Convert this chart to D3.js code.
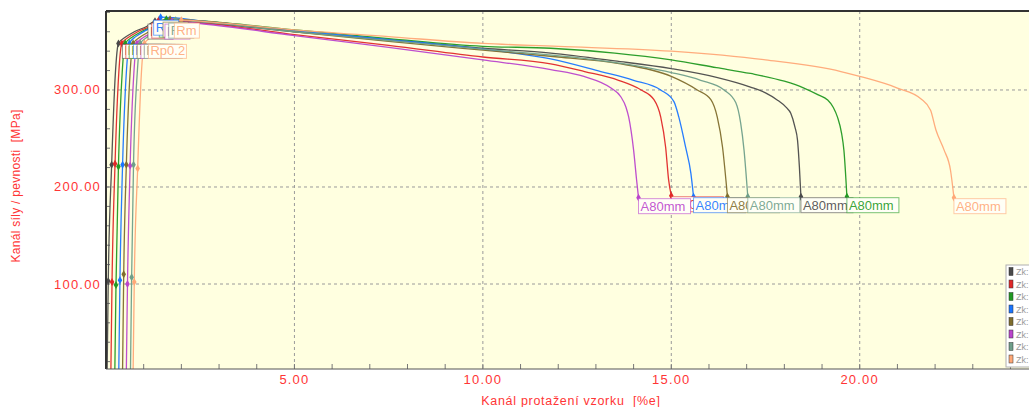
<!DOCTYPE html>
<html><head><meta charset="utf-8">
<script src="https://cdn.jsdelivr.net/npm/d3@7"></script>
<style>body{margin:0;background:#fff}svg{display:block;font-family:"Liberation Sans",Arial,sans-serif}</style>
</head><body><svg id="c" width="1029" height="407"></svg>
<script>
const seriesNames = ["Zk:","Zk:","Zk:","Zk:","Zk:","Zk:","Zk:","Zk:"];
const seriesColors = ["#4a4a4a","#e02828","#229922","#1a75ff","#7f6d2c","#bb44cc","#6f9f8a","#ffa877"];
const xTicks = [5,10,15,20];
const yTicks = [100,200,300];
// strain [%], stress [MPa]
const zk1 = [[0.03,12],[0.06,103],[0.15,223],[0.25,318],[0.33,348],[0.5,354],[0.75,360],[1.1,366],[1.3,371],[2.6,369],[5,360],[7.5,352],[10,343],[11.8,338],[13.5,330],[15,322],[16.2,313],[17.1,303],[17.5,297],[17.8,290],[18.05,282],[18.17,276],[18.28,262],[18.35,248],[18.4,220],[18.44,190]];
const zk2 = [[0.13,12],[0.16,102],[0.24,224],[0.34,318],[0.42,348],[0.59,354],[0.84,360],[1.19,366],[1.4,372],[2.6,369],[5,357],[7.5,346],[10,334],[11.8,327],[12.7,319],[13.6,310],[14.2,300],[14.54,290],[14.72,272],[14.85,241],[14.93,207],[15.0,191]];
const zk3 = [[0.235,12],[0.265,99],[0.33,221],[0.43,318],[0.51,348],[0.68,354],[0.93,360],[1.28,366],[1.6,373],[2.6,371],[5,362],[7.5,353],[10,345],[11.8,343],[13.5,338],[15,331],[16.2,323],[17.1,317],[18,309],[18.52,302],[18.9,295],[19.14,290],[19.3,282],[19.41,272],[19.52,255],[19.58,238],[19.66,190]];
const zk4 = [[0.34,12],[0.37,104],[0.44,223],[0.54,318],[0.62,348],[0.79,355],[1.04,361],[1.3,368],[1.45,375],[2.6,371],[5,361],[7.5,352],[10,342],[11.8,332],[13.13,319],[14,310],[14.72,300],[15.07,288],[15.2,272],[15.38,241],[15.52,214],[15.59,190]];
const zk5 = [[0.44,12],[0.47,110],[0.54,223],[0.64,318],[0.72,348],[0.89,354],[1.14,360],[1.49,366],[1.7,373],[2.6,371],[5,360],[7.5,350],[10,341],[12,334],[13.57,327.5],[15,314],[15.69,300],[16.05,290],[16.22,272],[16.36,241],[16.45,207],[16.49,190]];
const zk6 = [[0.54,12],[0.57,100],[0.64,222],[0.74,318],[0.82,348],[0.99,354],[1.24,359],[1.55,365],[1.75,371],[2.6,368],[5,356],[7.5,344],[10,331],[11.8,321],[12.68,314],[13.4,302],[13.66,293],[13.8,282],[13.87,272],[14.0,238],[14.08,207],[14.13,189]];
const zk7 = [[0.65,12],[0.68,107],[0.73,223],[0.83,318],[0.91,348],[1.08,354],[1.33,360],[1.65,366],[1.85,372],[2.6,370],[5,360],[7.5,351],[10,342],[13,331],[15,318],[15.78,310],[16.4,300],[16.71,287],[16.84,266],[16.93,238],[17.03,190]];
const zk8 = [[0.72,12],[0.75,102],[0.84,219],[0.94,318],[1.02,348],[1.19,354],[1.44,360],[1.78,366],[2.0,372],[2.8,370],[5,362],[7.5,355],[10,348],[12,345],[15,340],[17.5,331],[19.5,319],[20,314],[21,302],[21.62,291],[21.88,279],[22.02,259],[22.24,238],[22.41,217],[22.5,189]];
const allSeries = [zk1,zk2,zk3,zk4,zk5,zk6,zk7,zk8];
// indices of marked points: lower, upper, Rp0.2, Rm
const markIdx = [1,2,4,8];

const svg = d3.select("#c");
const L=106, T=11, B=369, R=1067;
const x = d3.scaleLinear().domain([0,25.5]).range([L,R]);
const y = d3.scaleLinear().domain([12.4,381.4]).range([B,T]);
const red = "#ff3535";

svg.append("defs").append("clipPath").attr("id","clip").append("rect")
  .attr("x",L).attr("y",T).attr("width",R-L).attr("height",B-T);
svg.append("rect").attr("x",L).attr("y",T).attr("width",R-L).attr("height",B-T).attr("fill","#ffffe0");

// grid
const g = svg.append("g");
g.selectAll("line.gx").data(xTicks).join("line").attr("x1",d=>x(d)).attr("x2",d=>x(d)).attr("y1",T).attr("y2",B)
  .attr("stroke","#9a9a9a").attr("stroke-dasharray","3,3");
g.selectAll("line.gy").data(yTicks).join("line").attr("y1",d=>y(d)).attr("y2",d=>y(d)).attr("x1",L).attr("x2",R)
  .attr("stroke","#9a9a9a").attr("stroke-dasharray","3,3");
// minor ticks
g.selectAll("line.mx").data(d3.range(1,26)).join("line").attr("x1",d=>x(d)).attr("x2",d=>x(d)).attr("y1",B).attr("y2",B-5)
  .attr("stroke","#777");
g.selectAll("line.my").data(d3.range(20,381,20)).join("line").attr("y1",d=>y(d)).attr("y2",d=>y(d)).attr("x1",L).attr("x2",L+4)
  .attr("stroke","#777");

// curves
const plot = svg.append("g").attr("clip-path","url(#clip)");
const line = d3.line().x(d=>x(d[0])).y(d=>y(d[1])).curve(d3.curveMonotoneX);
allSeries.forEach((s,i)=>{
  plot.append("path").attr("d",line(s)).attr("fill","none").attr("stroke",seriesColors[i]).attr("stroke-width",1.3).attr("stroke-opacity",0.95);
});
// markers
allSeries.forEach((s,i)=>{
  const pts = markIdx.map(k=>s[k]).concat([s[s.length-1]]);
  plot.selectAll(null).data(pts).join("path")
    .attr("d",d3.symbol(d3.symbolDiamond,18)())
    .attr("transform",d=>`translate(${x(d[0])},${y(d[1])})`)
    .attr("fill",seriesColors[i]);
});
// label boxes
function box(px,py,w,h,txt,col){
  const gg = plot.append("g");
  gg.append("rect").attr("x",px).attr("y",py).attr("width",w).attr("height",h)
    .attr("fill","#fffff6").attr("stroke",col).attr("stroke-opacity",0.6);
  gg.append("text").attr("x",px+2).attr("y",py+h-3).attr("font-size",13).attr("fill",col).attr("fill-opacity",0.9).text(txt);
}
allSeries.forEach((s,i)=>{
  const rp = s[markIdx[2]];
  box(x(rp[0])+4, y(rp[1])+1, 38, 14, "Rp0.2", seriesColors[i]);
});
allSeries.forEach((s,i)=>{
  const rm = s[markIdx[3]];
  box(x(rm[0])-7, y(rm[1])+3, 25, 15, "Rm", seriesColors[i]);
});
allSeries.forEach((s,i)=>{
  const e = s[s.length-1];
  box(x(e[0]), y(e[1])+1, 52, 15, "A80mm", seriesColors[i]);
});

// frame
svg.append("line").attr("x1",L).attr("x2",R).attr("y1",T).attr("y2",T).attr("stroke","#333").attr("stroke-width",2);
svg.append("line").attr("x1",L).attr("x2",L).attr("y1",T).attr("y2",B).attr("stroke","#333").attr("stroke-width",2);
svg.append("line").attr("x1",L).attr("x2",R).attr("y1",B).attr("y2",B).attr("stroke","#555").attr("stroke-width",1);

// tick labels
svg.selectAll("text.xl").data(xTicks).join("text").attr("x",d=>x(d)).attr("y",384).attr("text-anchor","middle")
  .attr("font-size",13).attr("letter-spacing",1.2).attr("fill",red).text(d=>d.toFixed(2));
svg.selectAll("text.yl").data(yTicks).join("text").attr("x",101).attr("y",d=>y(d)+4.5).attr("text-anchor","end")
  .attr("font-size",13).attr("letter-spacing",1.2).attr("fill",red).text(d=>d.toFixed(2));
// titles
svg.append("text").attr("x",571).attr("y",405).attr("text-anchor","middle").attr("font-size",12.5).attr("letter-spacing",0.7).attr("fill",red)
  .style("white-space","pre").text("Kanál protažení vzorku  [%e]");
svg.append("text").attr("transform","translate(20,186) rotate(-90)").attr("text-anchor","middle").attr("font-size",12).attr("letter-spacing",0.3).attr("fill",red)
  .style("white-space","pre").text("Kanál síly / pevnosti  [MPa]");

// legend
const lg = svg.append("g");
lg.append("rect").attr("x",1006).attr("y",265).attr("width",40).attr("height",102).attr("fill","#fff").attr("stroke","#b0b0b0");
seriesNames.forEach((n,i)=>{
  lg.append("rect").attr("x",1009).attr("y",267.5+i*12.5).attr("width",4).attr("height",8)
    .attr("fill",seriesColors[i]).attr("stroke","#333").attr("stroke-width",0.5);
  lg.append("text").attr("x",1016).attr("y",275+i*12.5).attr("font-size",9).attr("fill","#999").text(n);
});
</script></body></html>
